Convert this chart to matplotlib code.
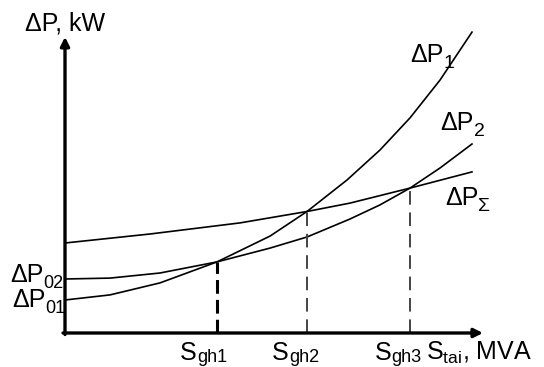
import matplotlib
matplotlib.use("Agg")
import matplotlib.pyplot as plt

# values (arbitrary units: S along x, dP along y)
s_p1 = [0.0, 1.125, 2.375, 3.8, 5.125, 6.05, 7.05, 7.875, 8.625, 9.375, 10.175]
dp1 = [1.10, 1.27, 1.67, 2.37, 3.23, 4.05, 5.10, 6.10, 7.17, 8.43, 10.03]

s_p2 = [0.0, 1.125, 2.375, 3.8, 5.125, 6.05, 7.125, 7.875, 8.625, 9.375, 10.175]
dp2 = [1.80, 1.83, 2.00, 2.37, 2.83, 3.20, 3.80, 4.27, 4.83, 5.50, 6.30]

s_sum = [0.0, 2.125, 4.375, 6.05, 7.125, 8.625, 10.175]
dp_sum = [3.00, 3.30, 3.67, 4.05, 4.33, 4.83, 5.37]

# crossing points S_gh1, S_gh2, S_gh3
s_gh = [3.8, 6.05, 8.625]
dp_gh = [2.37, 4.05, 4.83]
gh_names = ["gh1", "gh2", "gh3"]

plt.rcParams['font.family'] = ['Liberation Sans', 'DejaVu Sans']
plt.rcParams['mathtext.fontset'] = 'custom'
plt.rcParams['mathtext.rm'] = 'Liberation Sans'
plt.rcParams['mathtext.it'] = 'Liberation Sans:italic'

fig = plt.figure(figsize=(5.44, 3.67), dpi=100)
ax = fig.add_axes([65 / 544, 34 / 367, 440 / 544, 315 / 367])
ax.set_xlim(0, 11)
ax.set_ylim(0, 10.5)
ax.axis('off')

# curves
ax.plot(s_p1, dp1, color='black', lw=1.2, clip_on=False, solid_joinstyle='round')
ax.plot(s_p2, dp2, color='black', lw=1.2, clip_on=False, solid_joinstyle='round')
ax.plot(s_sum, dp_sum, color='black', lw=1.2, clip_on=False, solid_joinstyle='round')

# dashed drop lines
ax.plot([s_gh[0], s_gh[0]], [0, dp_gh[0]], color='black', lw=2.2, dashes=(4.5, 2.0))
for i in (1, 2):
	ax.plot([s_gh[i], s_gh[i]], [0, dp_gh[i]], color='#444444', lw=1.4, dashes=(7, 4))

# axes with arrows
arrow = dict(arrowstyle='-|>', lw=2.4, color='black', mutation_scale=13, shrinkA=0, shrinkB=0)
ax.annotate('', xy=(0, 9.87), xytext=(0, -0.05), arrowprops=arrow, annotation_clip=False)
ax.annotate('', xy=(10.45, 0), xytext=(-0.05, 0), arrowprops=arrow, annotation_clip=False)

fs = 18


def label(x, y, main, sub, subsize=14, drop=3.5):
	t = ax.text(x, y, main, fontsize=fs, ha='left', va='baseline', clip_on=False)
	ax.annotate(sub, xy=(1, 0), xycoords=t, xytext=(0, -drop), textcoords='offset points',
		fontsize=subsize, ha='left', va='bottom', annotation_clip=False)


ax.text(-1.0, 10.1, 'ΔP, kW', fontsize=fs, ha='left', va='baseline', clip_on=False)
label(8.63, 9.03, 'ΔP', '1')
label(9.38, 6.77, 'ΔP', '2')
label(9.5, 4.27, 'ΔP', 'Σ')
label(-1.38, 1.7, 'ΔP', '02', subsize=13)
label(-1.33, 0.87, 'ΔP', '01', subsize=13)

gh_left = [2.88, 5.18, 7.75]
for x, name in zip(gh_left, gh_names):
	label(x, -0.9, 'S', name, subsize=13, drop=0.5)

ax.text(9.02, -0.9, r'$\mathrm{S}_{\mathrm{tai}}$, MVA', fontsize=fs, ha='left', va='baseline',
	clip_on=False)

fig.savefig('out.png', dpi=100)
